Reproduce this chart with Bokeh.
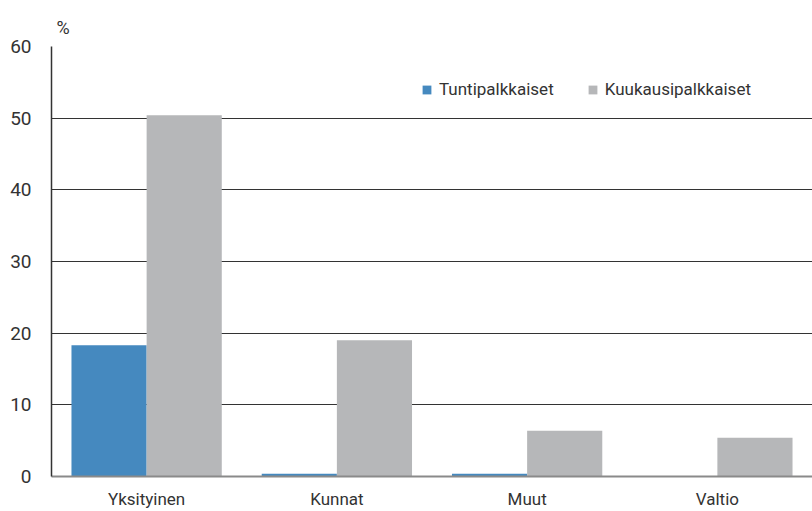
from bokeh.plotting import figure
from bokeh.models import FactorRange, Range1d, Legend, LegendItem, FixedTicker
from bokeh.transform import dodge
from bokeh.embed import file_html
from bokeh.resources import INLINE

categories = ["Yksityinen", "Kunnat", "Muut", "Valtio"]
series_names = ["Tuntipalkkaiset", "Kuukausipalkkaiset"]
tuntipalkkaiset = [18.3, 0.4, 0.4, 0.0]
kuukausipalkkaiset = [50.4, 19.0, 6.4, 5.4]
y_ticks = [0, 10, 20, 30, 40, 50, 60]

FONT = "Roboto"

p = figure(width=812, height=511, x_range=FactorRange(factors=categories),
           y_range=Range1d(0, 60), output_backend="svg", toolbar_location=None,
           min_border_left=51, min_border_right=0, min_border_top=46, min_border_bottom=35,
           title="%")
p.outline_line_color = None
p.title.align = "left"
p.title.offset = 5
p.title.standoff = 17
p.title.text_font = FONT
p.title.text_font_style = "normal"
p.title.text_font_size = "18px"
p.title.text_color = "#333333"

src = dict(cat=categories, t=tuntipalkkaiset, k=kuukausipalkkaiset)
r1 = p.vbar(x=dodge("cat", -0.1975, range=p.x_range), top="t", width=0.395, source=src,
            fill_color="#4589bf", line_color=None)
r2 = p.vbar(x=dodge("cat", 0.1975, range=p.x_range), top="k", width=0.395, source=src,
            fill_color="#b6b7b9", line_color=None)

p.xgrid.grid_line_color = None
p.ygrid.grid_line_color = "#333333"
p.ygrid.grid_line_width = 1
p.yaxis.ticker = FixedTicker(ticks=y_ticks)
p.yaxis.major_tick_line_color = None
p.yaxis.minor_tick_line_color = None
p.yaxis.axis_line_color = "#333333"
p.yaxis.axis_line_width = 1.5
p.yaxis.major_label_standoff = 14
p.yaxis.major_label_text_font = FONT
p.yaxis.major_label_text_font_size = "19px"
p.yaxis.major_label_text_color = "#333333"

p.xaxis.major_tick_line_color = None
p.xaxis.axis_line_color = "#8a8a8a"
p.xaxis.axis_line_width = 2
p.xaxis.major_label_standoff = 6
p.xaxis.major_label_text_font = FONT
p.xaxis.major_label_text_font_size = "17px"
p.xaxis.major_label_text_color = "#333333"

legend = Legend(items=[LegendItem(label=series_names[0], renderers=[r1]),
                       LegendItem(label=series_names[1], renderers=[r2])],
                orientation="horizontal", location=(370, 377))
legend.border_line_color = None
legend.background_fill_alpha = 0
legend.padding = 0
legend.margin = 0
legend.spacing = 33
legend.glyph_width = 11
legend.glyph_height = 11
legend.label_standoff = 7
legend.label_text_font = FONT
legend.label_text_font_size = "17px"
legend.label_text_color = "#333333"
p.add_layout(legend, "center")

open("out.html", "w").write(file_html(p, INLINE))
